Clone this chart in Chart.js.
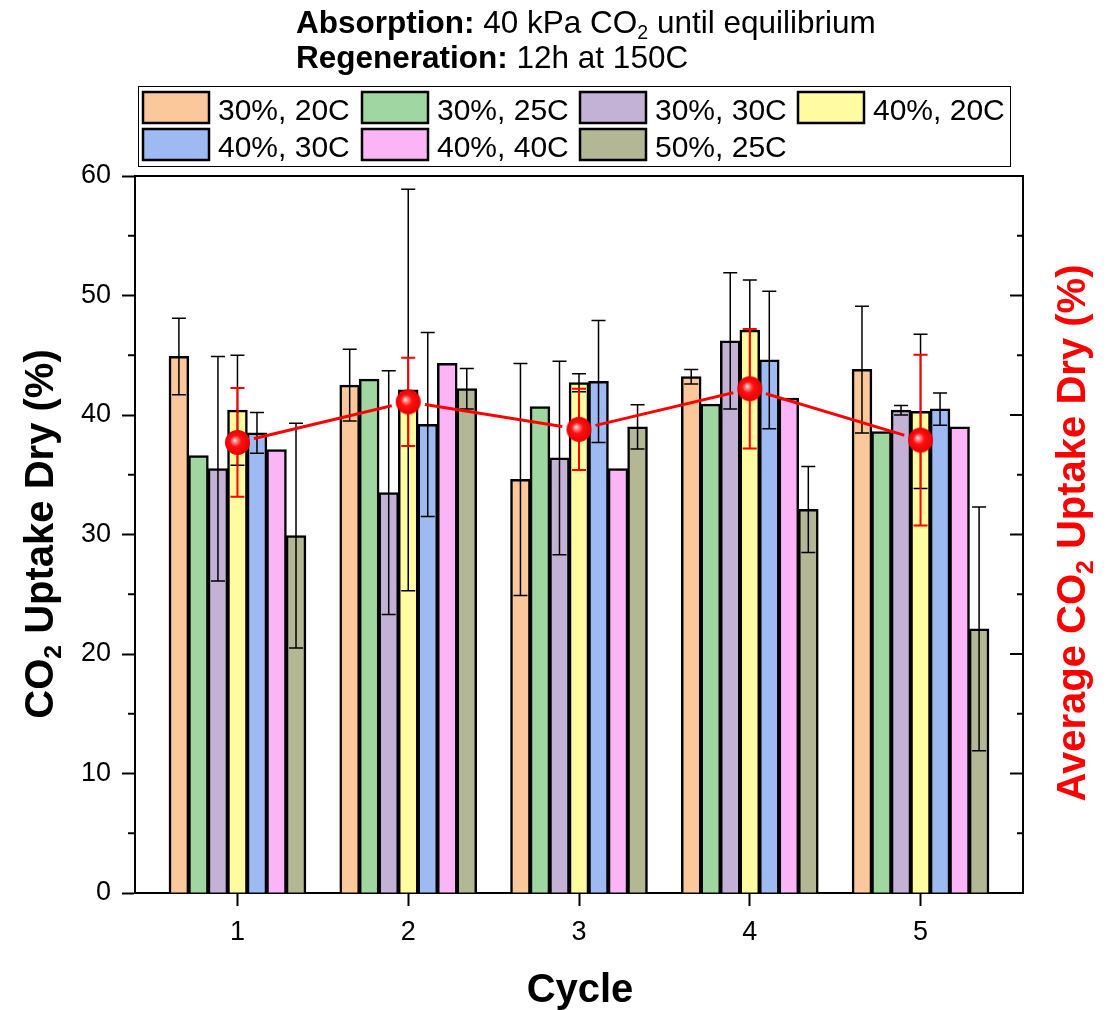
<!DOCTYPE html>
<html>
<head>
<meta charset="utf-8">
<script src="https://cdn.jsdelivr.net/npm/chart.js@4.4.1/dist/chart.umd.min.js"></script>
<style>
  html, body { margin: 0; padding: 0; background: #fff; }
  #wrap { width: 1119px; height: 1010px; }
</style>
</head>
<body>
<div id="wrap"><canvas id="chart" width="1119" height="1010"></canvas></div>
<script>
const FONT = '"Liberation Sans", Arial, sans-serif';

// x categories (cycle number)
const cycles = [1, 2, 3, 4, 5];
const xTicks = [1, 2, 3, 4, 5];
const yTicks = [0, 10, 20, 30, 40, 50, 60];

// series names, in legend order
const seriesNames = ['30%, 20C', '30%, 25C', '30%, 30C', '40%, 20C', '40%, 30C', '40%, 40C', '50%, 25C'];
const seriesColors = ['#FAC89B', '#A0D7A0', '#C3B1D6', '#FFFBA0', '#9DBBF2', '#FBB5F7', '#B3B794'];

// CO2 uptake values per cycle (%)
const uptake3020 = [44.9, 42.5, 34.6, 43.2, 43.8];
const uptake3025 = [36.6, 43.0, 40.7, 40.9, 38.6];
const uptake3030 = [35.5, 33.5, 36.4, 46.2, 40.4];
const uptake4020 = [40.4, 42.1, 42.7, 47.1, 40.3];
const uptake4030 = [38.5, 39.2, 42.8, 44.6, 40.5];
const uptake4040 = [37.1, 44.3, 35.5, 41.4, 39.0];
const uptake5025 = [29.9, 42.2, 39.0, 32.1, 22.1];

// error bar half widths (0 = no bar drawn)
const err3020 = [3.2, 3.0, 9.7, 0.6, 5.3];
const err3025 = [0, 0, 0, 0, 0];
const err3030 = [9.4, 10.2, 8.1, 5.7, 0.4];
const err4020 = [4.6, 16.8, 0.75, 4.2, 6.45];
const err4030 = [1.7, 7.7, 5.1, 5.75, 1.35];
const err4040 = [0, 0, 0, 0, 0];
const err5025 = [9.4, 1.7, 1.85, 3.6, 10.2];

// average over all conditions
const avgUptake = [37.7, 41.1, 38.8, 42.2, 37.9];
const avgErr = [4.55, 3.7, 3.4, 5.0, 7.15];

const uptakeSeries = [uptake3020, uptake3025, uptake3030, uptake4020, uptake4030, uptake4040, uptake5025];
const errSeries = [err3020, err3025, err3030, err4020, err4030, err4040, err5025];

// shiny red ball used as the point marker
function makeBall(r) {
  const c = document.createElement('canvas');
  c.width = c.height = r * 2 + 2;
  const g = c.getContext('2d');
  const cx = r + 1, cy = r + 1;
  const grad = g.createRadialGradient(cx - r * 0.25, cy - r * 0.2, 0, cx, cy, r);
  grad.addColorStop(0, '#fff4f4');
  grad.addColorStop(0.18, '#ff8a8a');
  grad.addColorStop(0.45, '#ff1010');
  grad.addColorStop(1, '#e60000');
  g.fillStyle = grad;
  g.beginPath();
  g.arc(cx, cy, r, 0, Math.PI * 2);
  g.fill();
  return c;
}

function drawRuns(ctx, runs, x, y, size) {
  let cx = x;
  for (const r of runs) {
    const fs = r.sub ? size * 0.62 : size;
    ctx.font = (r.bold ? 'bold ' : '') + fs + 'px ' + FONT;
    ctx.fillText(r.t, cx, r.sub ? y + size * 0.2 : y);
    cx += ctx.measureText(r.t).width;
  }
  return cx - x;
}

function measureRuns(ctx, runs, size) {
  let w = 0;
  for (const r of runs) {
    const fs = r.sub ? size * 0.62 : size;
    ctx.font = (r.bold ? 'bold ' : '') + fs + 'px ' + FONT;
    w += ctx.measureText(r.t).width;
  }
  return w;
}

function drawErrorBars(chart) {
  const ctx = chart.ctx;
  const y = chart.scales.y;
  ctx.save();
  ctx.strokeStyle = '#000';
  ctx.lineWidth = 1.5;
  errSeries.forEach((errs, i) => {
    const meta = chart.getDatasetMeta(i);
    meta.data.forEach((bar, j) => {
      const e = errs[j];
      if (!e) return;
      const v = uptakeSeries[i][j];
      const top = y.getPixelForValue(v + e);
      const bot = y.getPixelForValue(v - e);
      ctx.beginPath();
      ctx.moveTo(bar.x, top); ctx.lineTo(bar.x, bot);
      ctx.moveTo(bar.x - 7, top); ctx.lineTo(bar.x + 7, top);
      ctx.moveTo(bar.x - 7, bot); ctx.lineTo(bar.x + 7, bot);
      ctx.stroke();
    });
  });
  // red error bars of the average
  const y2 = chart.scales.y2;
  const x = chart.scales.x;
  ctx.strokeStyle = '#ff0000';
  ctx.lineWidth = 2;
  avgUptake.forEach((v, j) => {
    const px = x.getPixelForValue(cycles[j]);
    const top = y2.getPixelForValue(v + avgErr[j]);
    const bot = y2.getPixelForValue(v - avgErr[j]);
    ctx.beginPath();
    ctx.moveTo(px, top); ctx.lineTo(px, bot);
    ctx.moveTo(px - 7, top); ctx.lineTo(px + 7, top);
    ctx.moveTo(px - 7, bot); ctx.lineTo(px + 7, bot);
    ctx.stroke();
  });
  ctx.restore();
}

const decorations = {
  id: 'decorations',
  beforeDatasetDraw(chart, args) {
    if (args.meta.label !== 'Average line') return;
    drawErrorBars(chart);
    // leave a small gap between the line and each ball
    const ctx = chart.ctx;
    const x = chart.scales.x, y2 = chart.scales.y2;
    ctx.save();
    ctx.beginPath();
    ctx.rect(0, 0, chart.width, chart.height);
    avgUptake.forEach((v, j) => {
      const px = x.getPixelForValue(cycles[j]);
      const py = y2.getPixelForValue(v);
      ctx.moveTo(px + 17, py);
      ctx.arc(px, py, 17, 0, Math.PI * 2);
    });
    ctx.clip('evenodd');
  },
  afterDatasetDraw(chart, args) {
    if (args.meta.label === 'Average line') chart.ctx.restore();
  },
  afterDraw(chart) {
    const ctx = chart.ctx;
    const a = chart.chartArea;
    const y = chart.scales.y;
    ctx.save();
    ctx.strokeStyle = '#000';
    ctx.lineWidth = 2;
    // top frame line
    ctx.beginPath();
    ctx.moveTo(a.left - 1, a.top); ctx.lineTo(a.right + 1, a.top);
    ctx.stroke();
    // minor ticks on left, all ticks inward on right
    for (let v = 0; v <= 60; v += 5) {
      const py = y.getPixelForValue(v);
      const major = v % 10 === 0;
      ctx.beginPath();
      if (!major) { ctx.moveTo(a.left, py); ctx.lineTo(a.left - 7, py); }
      ctx.moveTo(a.right, py); ctx.lineTo(a.right - (major ? 13 : 6), py);
      ctx.stroke();
    }
    ctx.fillStyle = '#000';
    ctx.textBaseline = 'alphabetic';
    // title lines
    drawRuns(ctx, [{ t: 'Absorption:', bold: true }, { t: ' 40 kPa CO' }, { t: '2', sub: true }, { t: ' until equilibrium' }], 296, 33, 31.5);
    drawRuns(ctx, [{ t: 'Regeneration:', bold: true }, { t: ' 12h at 150C' }], 296, 68, 31.5);

    // legend box
    ctx.lineWidth = 1;
    ctx.strokeRect(138.5, 86.5, 872, 80);
    const colX = [143, 362, 580, 798];
    const rowY = [92, 129];
    seriesNames.forEach((name, i) => {
      const sx = colX[i % 4], sy = rowY[Math.floor(i / 4)];
      ctx.fillStyle = seriesColors[i];
      ctx.fillRect(sx, sy, 66, 31);
      ctx.lineWidth = 2.5;
      ctx.strokeStyle = '#000';
      ctx.strokeRect(sx, sy, 66, 31);
      ctx.fillStyle = '#000';
      ctx.font = '30px ' + FONT;
      ctx.fillText(name, sx + 75, sy + 28);
    });

    // x axis title
    ctx.font = 'bold 40px ' + FONT;
    ctx.textAlign = 'center';
    ctx.fillText('Cycle', 580, 1002);
    ctx.textAlign = 'left';

    // left axis title
    const leftRuns = [{ t: 'CO', bold: true }, { t: '2', bold: true, sub: true }, { t: ' Uptake Dry (%)', bold: true }];
    let w = measureRuns(ctx, leftRuns, 40);
    ctx.save();
    ctx.translate(53, 534);
    ctx.rotate(-Math.PI / 2);
    drawRuns(ctx, leftRuns, -w / 2, 0, 40);
    ctx.restore();

    // right axis title
    const rightRuns = [{ t: 'Average CO', bold: true }, { t: '2', bold: true, sub: true }, { t: ' Uptake Dry (%)', bold: true }];
    w = measureRuns(ctx, rightRuns, 40);
    ctx.save();
    ctx.fillStyle = '#ff0000';
    ctx.translate(1085, 533);
    ctx.rotate(-Math.PI / 2);
    drawRuns(ctx, rightRuns, -w / 2, 0, 40);
    ctx.restore();
    ctx.restore();
  }
};

const barSets = uptakeSeries.map((vals, i) => ({
  type: 'bar',
  label: seriesNames[i],
  data: vals.map((v, j) => ({ x: cycles[j], y: v })),
  backgroundColor: seriesColors[i],
  borderColor: '#000',
  borderWidth: 2.5,
  inflateAmount: 0.5,
  categoryPercentage: 0.8,
  barPercentage: 1.0,
  yAxisID: 'y'
}));

const avgData = avgUptake.map((v, j) => ({ x: cycles[j], y: v }));

const avgLine = {
  type: 'line',
  label: 'Average line',
  data: avgData,
  borderColor: '#ff0000',
  borderWidth: 3,
  pointRadius: 0,
  tension: 0,
  order: -1,
  yAxisID: 'y2'
};

const avgBalls = {
  type: 'line',
  label: 'Average',
  data: avgData,
  showLine: false,
  pointStyle: makeBall(12.5),
  pointRadius: 12.5,
  order: -2,
  yAxisID: 'y2'
};

new Chart(document.getElementById('chart'), {
  type: 'bar',
  data: { datasets: [...barSets, avgLine, avgBalls] },
  options: {
    responsive: false,
    devicePixelRatio: 1,
    animation: false,
    events: [],
    layout: { padding: { top: 176, left: 0, right: 0, bottom: 0 } },
    plugins: { legend: { display: false }, tooltip: { enabled: false }, title: { display: false } },
    scales: {
      x: {
        type: 'linear',
        min: 0.4,
        max: 5.6,
        offset: false,
        afterBuildTicks: s => { s.ticks = xTicks.map(v => ({ value: v })); },
        afterFit: s => { s.height = 117; },
        ticks: { color: '#000', font: { size: 27, family: FONT }, padding: 10, maxRotation: 0 },
        grid: { offset: false, drawOnChartArea: false, drawTicks: true, tickLength: 13, tickWidth: 2, tickColor: '#000' },
        border: { display: true, color: '#000', width: 2 }
      },
      y: {
        position: 'left',
        min: 0,
        max: 60,
        afterBuildTicks: s => { s.ticks = yTicks.map(v => ({ value: v })); },
        afterFit: s => { s.width = 135; },
        ticks: { color: '#000', font: { size: 27, family: FONT }, padding: 11 },
        grid: { drawOnChartArea: false, drawTicks: true, tickLength: 13, tickWidth: 2, tickColor: '#000' },
        border: { display: true, color: '#000', width: 2 }
      },
      y2: {
        position: 'right',
        min: 0,
        max: 60,
        afterFit: s => { s.width = 96; },
        ticks: { display: false },
        grid: { display: false, drawTicks: false },
        border: { display: true, color: '#000', width: 2 }
      }
    }
  },
  plugins: [decorations]
});
</script>
</body>
</html>
